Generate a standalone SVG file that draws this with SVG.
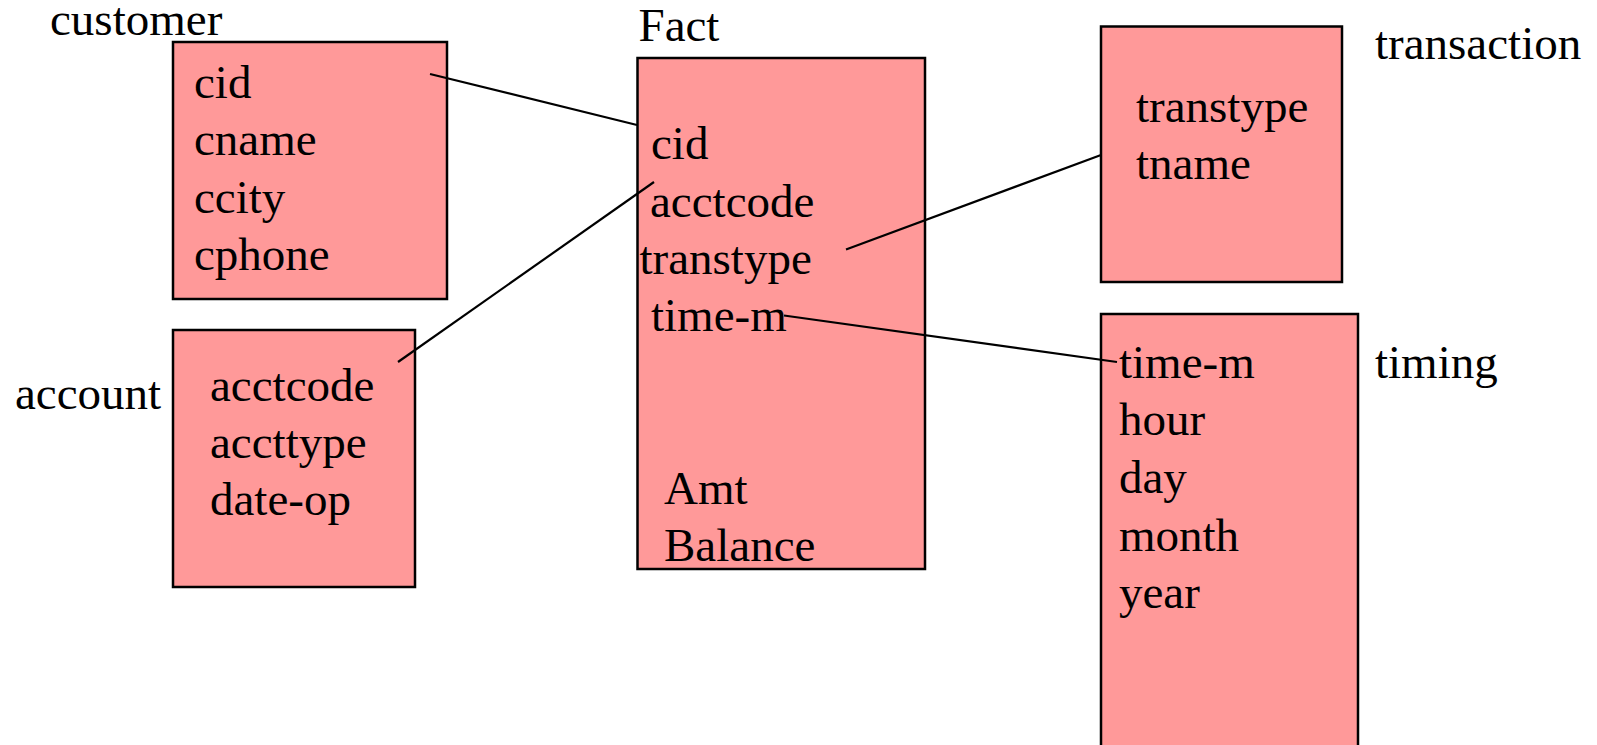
<svg xmlns="http://www.w3.org/2000/svg" width="1597" height="745" viewBox="0 0 1597 745">
  <style>
    .box { fill: #FF9999; stroke: #000; stroke-width: 2.5; }
    .t { font-family: 'Liberation Serif', Tinos, 'Times New Roman', 'DejaVu Serif', serif; font-size: 47px; fill: #000; }
    .link { stroke: #000; stroke-width: 2.2; fill: none; }
  </style>
  <rect width="1597" height="745" fill="#fff"/>

  <!-- customer dimension -->
  <g id="customer" font-family="Liberation Serif, serif">
    <rect class="box" x="173" y="42" width="274" height="257"/>
    <text class="t" x="50" y="35">customer</text>
    <text class="t" x="194" y="98">cid</text>
    <text class="t" x="194" y="155">cname</text>
    <text class="t" x="194" y="212.5">ccity</text>
    <text class="t" x="194" y="270">cphone</text>
  </g>

  <!-- account dimension -->
  <g id="account">
    <rect class="box" x="173" y="330" width="242" height="257"/>
    <text class="t" x="15" y="409">account</text>
    <text class="t" x="210" y="401">acctcode</text>
    <text class="t" x="210" y="458">accttype</text>
    <text class="t" x="210" y="515">date-op</text>
  </g>

  <!-- fact table -->
  <g id="fact">
    <rect class="box" x="637.5" y="58" width="287.5" height="511"/>
    <text class="t" x="638.5" y="41">Fact</text>
    <text class="t" x="651" y="159">cid</text>
    <text class="t" x="650" y="216.5">acctcode</text>
    <text class="t" x="639.5" y="274">transtype</text>
    <text class="t" x="651" y="331">time-m</text>
    <text class="t" x="664" y="503.5">Amt</text>
    <text class="t" x="664" y="560.5">Balance</text>
  </g>

  <!-- transaction dimension -->
  <g id="transaction">
    <rect class="box" x="1101" y="26.5" width="241" height="255.5"/>
    <text class="t" x="1375" y="59">transaction</text>
    <text class="t" x="1136" y="121.5">transtype</text>
    <text class="t" x="1136" y="178.5">tname</text>
  </g>

  <!-- timing dimension -->
  <g id="timing">
    <rect class="box" x="1101" y="314" width="257" height="460"/>
    <text class="t" x="1375" y="378">timing</text>
    <text class="t" x="1119" y="378">time-m</text>
    <text class="t" x="1119" y="435">hour</text>
    <text class="t" x="1119" y="492.5">day</text>
    <text class="t" x="1119" y="550.5">month</text>
    <text class="t" x="1119" y="608">year</text>
  </g>

  <!-- key links between fact and dimensions -->
  <g id="connectors">
    <line class="link" x1="430" y1="74" x2="637" y2="125"/>
    <line class="link" x1="398" y1="362" x2="654" y2="182"/>
    <line class="link" x1="846" y1="249.5" x2="1101" y2="155"/>
    <line class="link" x1="784" y1="315.5" x2="1117" y2="362"/>
  </g>
</svg>
